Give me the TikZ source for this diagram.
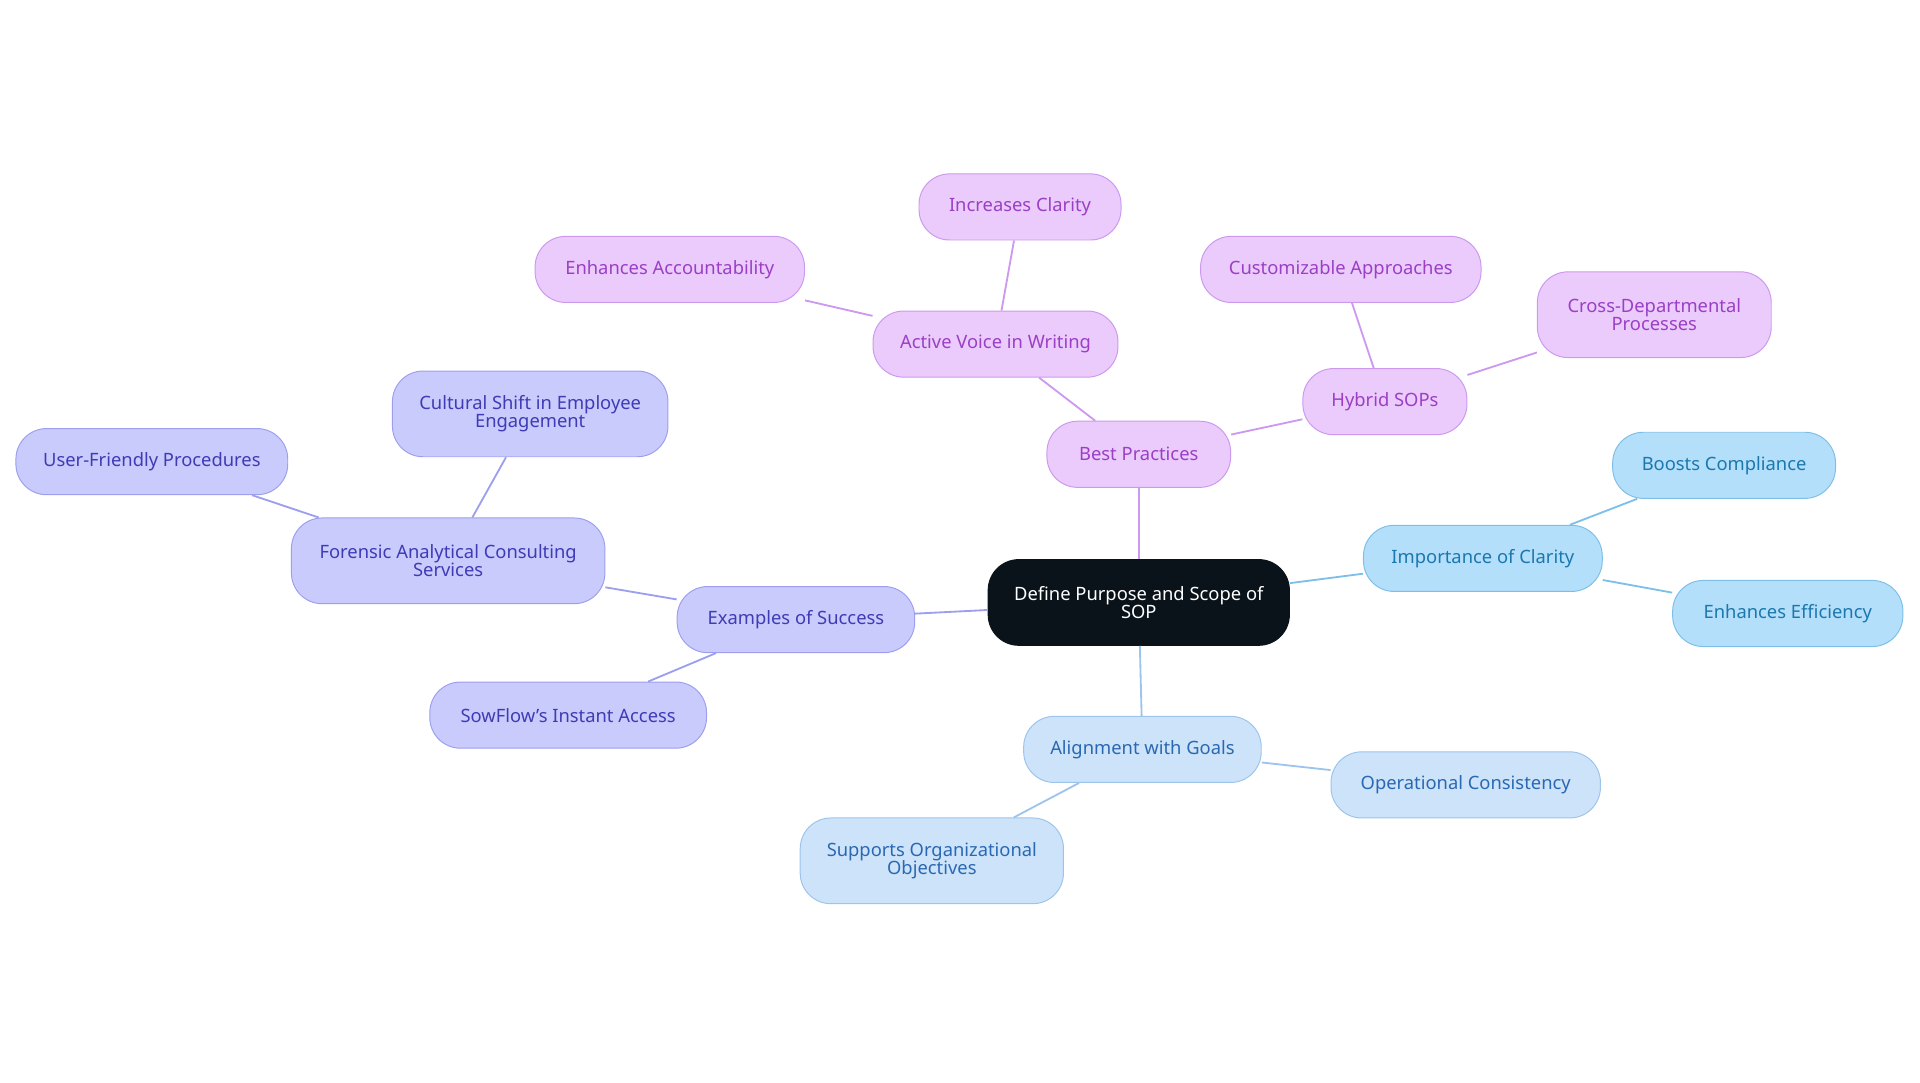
\documentclass[tikz,border=0pt]{standalone}
\usepackage{fontspec}
\setmainfont{Noto Sans}
\definecolor{pf}{HTML}{EBCBFB}\definecolor{pd}{HTML}{CC99EE}\definecolor{pt}{HTML}{9A3FC6}
\definecolor{vf}{HTML}{C9CBFD}\definecolor{vd}{HTML}{9D9FEE}\definecolor{vt}{HTML}{3E3BB5}
\definecolor{bf}{HTML}{B4DFFB}\definecolor{bd}{HTML}{7EBFE8}\definecolor{bt}{HTML}{1B78AE}
\definecolor{lf}{HTML}{CDE3FA}\definecolor{ld}{HTML}{9DC4EC}\definecolor{lt}{HTML}{2A68B2}
\definecolor{cf}{HTML}{0A131A}
\begin{document}
\begin{tikzpicture}[x=1pt,y=-1pt,font=\fontsize{15}{15}\selectfont,
 box/.style={rounded corners=25pt,align=center,inner sep=0pt,draw,line width=0.8pt},
 pb/.style={box,fill=pf,draw=pd,text=pt},
 vb/.style={box,fill=vf,draw=vd,text=vt},
 bb/.style={box,fill=bf,draw=bd,text=bt},
 lb/.style={box,fill=lf,draw=ld,text=lt},
 pe/.style={draw=pd,line width=1.5pt},
 ve/.style={draw=vd,line width=1.5pt},
 be/.style={draw=bd,line width=1.5pt},
 le/.style={draw=ld,line width=1.5pt}]
\useasboundingbox (0,0) rectangle (1568,884);
\newcommand\nd[6]{\node[#1,minimum width=#4pt,minimum height=#5pt] (#2) at #3 {#6};}
\nd{box,fill=cf,draw=cf,text=white}{c}{(930,492)}{246}{70}{Define Purpose and Scope of\\SOP}
\nd{pb}{bp}{(930,371)}{150}{54}{Best Practices}
\nd{pb}{av}{(813,281)}{200}{54}{Active Voice in Writing}
\nd{pb}{ic}{(833,169)}{165}{54}{Increases Clarity}
\nd{pb}{ea}{(547,220)}{220}{54}{Enhances Accountability}
\nd{pb}{hs}{(1131,328)}{134}{54}{Hybrid SOPs}
\nd{pb}{ca}{(1095,220)}{229}{54}{Customizable Approaches}
\nd{pb}{cd}{(1351,257)}{191}{70}{Cross-Departmental\\Processes}
\nd{bb}{im}{(1211,456)}{195}{54}{Importance of Clarity}
\nd{bb}{bc}{(1408,380)}{182}{54}{Boosts Compliance}
\nd{bb}{ee}{(1460,501)}{188}{54}{Enhances Efficiency}
\nd{lb}{ag}{(933,612)}{194}{54}{Alignment with Goals}
\nd{lb}{oc}{(1197,641)}{220}{54}{Operational Consistency}
\nd{lb}{so}{(761,703)}{215}{70}{Supports Organizational\\Objectives}
\nd{vb}{es}{(650,506)}{194}{54}{Examples of Success}
\nd{vb}{fa}{(366,458)}{256}{70}{Forensic Analytical Consulting\\Services}
\nd{vb}{cs}{(433,338)}{225}{70}{Cultural Shift in Employee\\Engagement}
\nd{vb}{uf}{(124,377)}{222}{54}{User-Friendly Procedures}
\nd{vb}{sf}{(464,584)}{226}{54}{SowFlow's Instant Access}
\begin{scope}[on background layer/.style={}]
\end{scope}
\begin{pgfinterruptboundingbox}\end{pgfinterruptboundingbox}
\draw[pe] (c) -- (bp); \draw[pe] (bp) -- (av); \draw[pe] (av) -- (ic); \draw[pe] (av) -- (ea);
\draw[pe] (bp) -- (hs); \draw[pe] (hs) -- (ca); \draw[pe] (hs) -- (cd);
\draw[be] (c) -- (im); \draw[be] (im) -- (bc); \draw[be] (im) -- (ee);
\draw[le] (c) -- (ag); \draw[le] (ag) -- (oc); \draw[le] (ag) -- (so);
\draw[ve] (c) -- (es); \draw[ve] (es) -- (fa); \draw[ve] (fa) -- (cs); \draw[ve] (fa) -- (uf); \draw[ve] (es) -- (sf);
\end{tikzpicture}
\end{document}
